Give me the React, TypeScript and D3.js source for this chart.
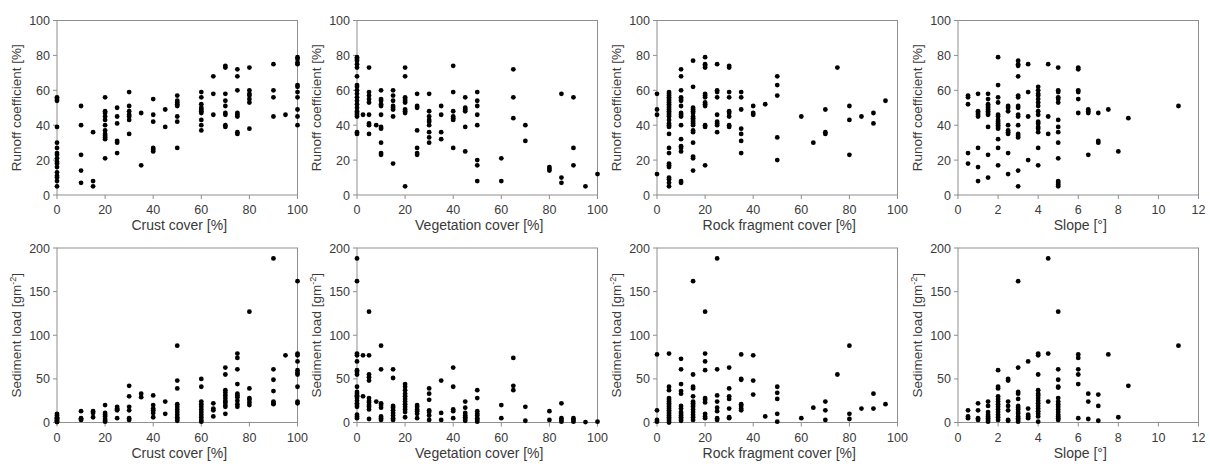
import React from "react";
import * as d3 from "d3";

// ---- Data: [x value, list of y values at that x] ----
const crustRunoff: [number, number[]][] = [
  [0, [56, 55, 54, 39, 30, 27, 24, 23, 21, 19, 18, 16, 13, 11, 10, 8, 5]],
  [10, [51, 40, 23, 14, 7]],
  [15, [36, 8, 5]],
  [20, [56, 48, 47, 45, 43, 40, 37, 35, 34, 33, 32, 21]],
  [25, [50, 45, 41, 31, 30, 24]],
  [30, [59, 51, 48, 46, 45, 43, 35]],
  [35, [47, 17]],
  [40, [55, 46, 42, 27, 26, 25]],
  [45, [49, 39]],
  [50, [57, 54, 53, 52, 51, 45, 42, 27]],
  [60, [59, 56, 52, 50, 49, 48, 47, 43, 40, 37]],
  [65, [68, 58, 46]],
  [70, [74, 73, 58, 54, 51, 47, 46, 40, 39]],
  [75, [72, 68, 60, 47, 46, 45, 36, 35]],
  [80, [73, 60, 58, 57, 55, 53, 38]],
  [90, [75, 60, 56, 45]],
  [95, [46]],
  [100, [79, 78, 76, 75, 63, 62, 59, 56, 49, 45, 40]],
];

const vegRunoff: [number, number[]][] = [
  [0, [79, 78, 77, 75, 73, 68, 63, 62, 60, 58, 56, 54, 52, 50, 48, 47, 46, 45, 36, 35]],
  [2.5, [46]],
  [5, [73, 59, 57, 55, 53, 46, 41, 40, 35]],
  [8, [40]],
  [10, [60, 55, 54, 52, 51, 46, 39, 38, 30, 24, 23]],
  [15, [60, 57, 54, 51, 50, 49, 45, 18]],
  [20, [73, 68, 56, 55, 54, 53, 49, 48, 47, 5]],
  [25, [58, 51, 50, 37, 27, 24, 23]],
  [30, [58, 48, 45, 43, 42, 40, 36, 33, 30]],
  [35, [51, 46, 36, 32]],
  [40, [74, 59, 48, 45, 44, 43, 27]],
  [45, [56, 50, 49, 48, 39, 25]],
  [50, [59, 54, 51, 46, 40, 20, 17, 8]],
  [60, [21, 8]],
  [65, [72, 56, 44]],
  [70, [40, 31]],
  [80, [16, 15, 14]],
  [85, [58, 10, 7]],
  [90, [56, 27, 17]],
  [95, [5]],
  [100, [12]],
];

const rockRunoff: [number, number[]][] = [
  [0, [58, 49, 46, 12]],
  [5, [59, 58, 57, 56, 55, 54, 53, 52, 51, 50, 49, 48, 47, 46, 45, 43, 41, 40, 39, 35, 27, 24, 18, 17, 16, 10, 9, 7, 5]],
  [10, [72, 68, 60, 56, 55, 54, 51, 47, 46, 45, 40, 32, 28, 27, 25, 8, 7]],
  [15, [77, 62, 50, 49, 48, 47, 45, 44, 43, 42, 41, 40, 37, 36, 30, 22, 21, 14]],
  [20, [79, 75, 74, 73, 58, 57, 56, 53, 52, 51, 40, 39, 17]],
  [25, [75, 60, 59, 56, 46, 42, 41, 40, 36]],
  [30, [74, 73, 59, 56, 48, 47, 45, 40, 39]],
  [35, [59, 56, 49, 38, 35, 31, 24]],
  [40, [51, 47, 46]],
  [45, [52]],
  [50, [68, 63, 57, 33, 20]],
  [60, [45]],
  [65, [30]],
  [70, [49, 36, 35]],
  [75, [73]],
  [80, [51, 43, 23]],
  [85, [45]],
  [90, [47, 41]],
  [95, [54]],
];

const slopeRunoff: [number, number[]][] = [
  [0.5, [57, 56, 52, 24, 18]],
  [1, [58, 48, 47, 46, 45, 27, 16, 8]],
  [1.5, [58, 55, 52, 51, 50, 49, 48, 47, 46, 39, 23, 10]],
  [2, [79, 63, 56, 53, 46, 45, 43, 42, 41, 40, 39, 38, 32, 27, 17]],
  [2.5, [51, 50, 48, 40, 37, 36, 35, 24, 12]],
  [3, [77, 75, 74, 68, 57, 56, 51, 50, 46, 45, 40, 35, 34, 33, 14, 5]],
  [3.5, [75, 59, 45, 20]],
  [4, [62, 60, 58, 57, 55, 53, 51, 48, 46, 42, 41, 39, 38, 36, 27, 17]],
  [4.5, [75, 45, 35]],
  [5, [73, 60, 59, 56, 55, 53, 43, 39, 36, 30, 21, 8, 7, 6, 5]],
  [6, [73, 72, 60, 59, 55, 47]],
  [6.5, [49, 48, 47, 23]],
  [7, [47, 31, 30]],
  [7.5, [49]],
  [8, [25]],
  [8.5, [44]],
  [11, [51]],
];

const crustSediment: [number, number[]][] = [
  [0, [10, 8, 6, 5, 4, 3, 2, 1, 0.5]],
  [10, [13, 5, 4, 3]],
  [15, [13, 11, 6]],
  [20, [20, 11, 9, 7, 4, 2, 1]],
  [25, [18, 16, 15, 14, 5]],
  [30, [42, 30, 18, 14, 5, 3]],
  [35, [33, 29]],
  [40, [31, 20, 16, 14, 11, 6]],
  [45, [24, 10]],
  [50, [88, 48, 39, 21, 18, 15, 12, 9, 6, 4, 2]],
  [60, [50, 41, 24, 21, 18, 15, 12, 9, 6, 3, 1]],
  [65, [22, 16, 14, 7]],
  [70, [63, 55, 37, 34, 31, 28, 25, 23, 20, 18, 10]],
  [75, [79, 74, 61, 44, 33, 31, 29, 25, 21, 18]],
  [80, [127, 39, 28, 26, 23, 20]],
  [90, [188, 61, 49, 36, 24, 22, 21]],
  [95, [77]],
  [100, [162, 79, 77, 70, 60, 57, 55, 41, 24, 22]],
];

const vegSediment: [number, number[]][] = [
  [0, [188, 162, 79, 77, 70, 60, 58, 55, 41, 35, 33, 31, 30, 28, 25, 22, 20, 18, 9, 7, 5]],
  [2.5, [77, 30]],
  [5, [127, 77, 55, 52, 48, 28, 25, 23, 20, 18, 15, 4]],
  [8, [24]],
  [10, [88, 61, 22, 20, 17, 7, 5, 3]],
  [15, [61, 51, 19, 17, 14, 11, 8, 5, 3]],
  [20, [44, 41, 37, 33, 30, 27, 24, 21, 18, 15, 12, 6]],
  [25, [20, 18, 15, 13, 10, 5]],
  [30, [39, 33, 26, 14, 12, 8, 3]],
  [35, [48, 11, 3]],
  [40, [63, 41, 15, 13, 5]],
  [45, [24, 17, 11, 8, 6, 4, 2]],
  [50, [37, 28, 13, 10, 8, 5, 3, 1]],
  [60, [20, 5]],
  [65, [74, 42, 37]],
  [70, [18, 2]],
  [80, [13, 3]],
  [85, [22, 5, 3, 1]],
  [90, [5, 3, 1]],
  [95, [0.5]],
  [100, [1]],
];

const rockSediment: [number, number[]][] = [
  [0, [78, 14, 3, 1]],
  [5, [79, 41, 37, 28, 26, 24, 22, 20, 18, 16, 14, 12, 10, 8, 6, 4, 2, 0]],
  [10, [73, 61, 44, 36, 33, 19, 16, 12, 10, 8, 6, 4, 2]],
  [15, [162, 55, 41, 39, 30, 24, 22, 20, 18, 15, 12, 9, 6, 3]],
  [20, [127, 79, 70, 60, 28, 26, 23, 10, 7, 5]],
  [25, [188, 61, 31, 24, 17, 13, 5, 3]],
  [30, [63, 39, 30, 27, 16, 6, 5]],
  [35, [78, 50, 49, 21, 19, 16, 14]],
  [40, [77, 48, 32]],
  [45, [7]],
  [50, [41, 34, 27, 10, 1]],
  [60, [5]],
  [65, [17]],
  [70, [24, 14, 3]],
  [75, [55]],
  [80, [88, 10, 4]],
  [85, [16]],
  [90, [33, 16]],
  [95, [21]],
];

const slopeSediment: [number, number[]][] = [
  [0.5, [14, 7, 5]],
  [1, [22, 14, 5, 3]],
  [1.5, [24, 19, 12, 9, 7, 5, 3, 1]],
  [2, [60, 41, 39, 30, 27, 24, 21, 18, 15, 12, 9, 6, 3]],
  [2.5, [50, 48, 24, 19, 14, 3, 2]],
  [3, [162, 63, 35, 33, 27, 19, 17, 15, 12, 10, 7, 5, 3, 1]],
  [3.5, [70, 16, 9, 7, 5]],
  [4, [79, 77, 55, 37, 33, 31, 28, 25, 22, 19, 16, 13, 10, 7, 1]],
  [4.5, [188, 79, 24]],
  [5, [127, 61, 49, 41, 40, 28, 24, 21, 18, 15, 12, 9, 7, 5, 3]],
  [6, [78, 74, 61, 55, 44, 5]],
  [6.5, [33, 24, 4]],
  [7, [32, 19, 2]],
  [7.5, [78]],
  [8, [6]],
  [8.5, [42]],
  [11, [88]],
];

const xTitles = ["Crust cover [%]", "Vegetation cover [%]", "Rock fragment cover [%]", "Slope [°]"];
const coverTicks = [0, 20, 40, 60, 80, 100];
const slopeTicks = [0, 2, 4, 6, 8, 10, 12];
const runoffTicks = [0, 20, 40, 60, 80, 100];
const sedimentTicks = [0, 50, 100, 150, 200];

const topData = [crustRunoff, vegRunoff, rockRunoff, slopeRunoff];
const bottomData = [crustSediment, vegSediment, rockSediment, slopeSediment];

// ---- Layout ----
const W = 1210;
const H = 466;
const colLeft = [57, 357, 657, 958];
const plotW = 240.5;
const rowTop = [20.5, 248];
const plotH = 174.5;
const FONT = "'Liberation Sans', Arial, Helvetica, sans-serif";
const TEXT = "#3a3a3a";
const AXIS = "#8f8f8f";

function Panel({
  data,
  col,
  row,
}: {
  data: [number, number[]][];
  col: number;
  row: number;
}) {
  const left = colLeft[col];
  const top = rowTop[row];
  const bottom = top + plotH;
  const xTicks = col === 3 ? slopeTicks : coverTicks;
  const yTicks = row === 0 ? runoffTicks : sedimentTicks;
  const x = d3
    .scaleLinear()
    .domain([0, xTicks[xTicks.length - 1]])
    .range([left, left + plotW]);
  const y = d3
    .scaleLinear()
    .domain([0, yTicks[yTicks.length - 1]])
    .range([bottom, top]);
  const pts = data.flatMap(([xv, ys]) => ys.map((yv) => ({ xv, yv })));
  const cx = left + plotW / 2;
  const cy = top + plotH / 2;
  return (
    <g>
      <rect x={left} y={top} width={plotW} height={plotH} fill="none" stroke={AXIS} strokeWidth={1} />
      {xTicks.map((t) => (
        <g key={"x" + t}>
          <line x1={x(t)} x2={x(t)} y1={bottom} y2={bottom + 4} stroke={AXIS} />
          <text x={x(t)} y={bottom + 19} textAnchor="middle" fontSize={12.5} fill={TEXT} fontFamily={FONT}>
            {t}
          </text>
        </g>
      ))}
      {yTicks.map((t) => (
        <g key={"y" + t}>
          <line x1={left - 4} x2={left} y1={y(t)} y2={y(t)} stroke={AXIS} />
          <text x={left - 7} y={y(t)} dy="0.36em" textAnchor="end" fontSize={12.5} fill={TEXT} fontFamily={FONT}>
            {t}
          </text>
        </g>
      ))}
      {pts.map((p, i) => (
        <circle key={i} cx={x(p.xv)} cy={y(p.yv)} r={2.4} fill="#000" />
      ))}
      <text x={cx + 2} y={bottom + 35} textAnchor="middle" fontSize={14} fill={TEXT} fontFamily={FONT}>
        {xTitles[col]}
      </text>
      <text
        transform={`translate(${left - 41},${cy}) rotate(-90)`}
        dy="0.36em"
        textAnchor="middle"
        fontSize={13.5}
        fill={TEXT}
        fontFamily={FONT}
      >
        {row === 0 ? (
          "Runoff coefficient [%]"
        ) : (
          <>
            {"Sediment load [gm"}
            <tspan dy="-5" fontSize={9}>
              -2
            </tspan>
            <tspan dy="5">]</tspan>
          </>
        )}
      </text>
    </g>
  );
}

export default function App() {
  return (
    <svg
      width={W}
      height={H}
      viewBox={`0 0 ${W} ${H}`}
      style={{ position: "absolute", left: 0, top: 0, background: "#fff" }}
    >
      <rect x={0} y={0} width={W} height={H} fill="#fff" />
      {topData.map((d, i) => (
        <Panel key={"t" + i} data={d} col={i} row={0} />
      ))}
      {bottomData.map((d, i) => (
        <Panel key={"b" + i} data={d} col={i} row={1} />
      ))}
    </svg>
  );
}
